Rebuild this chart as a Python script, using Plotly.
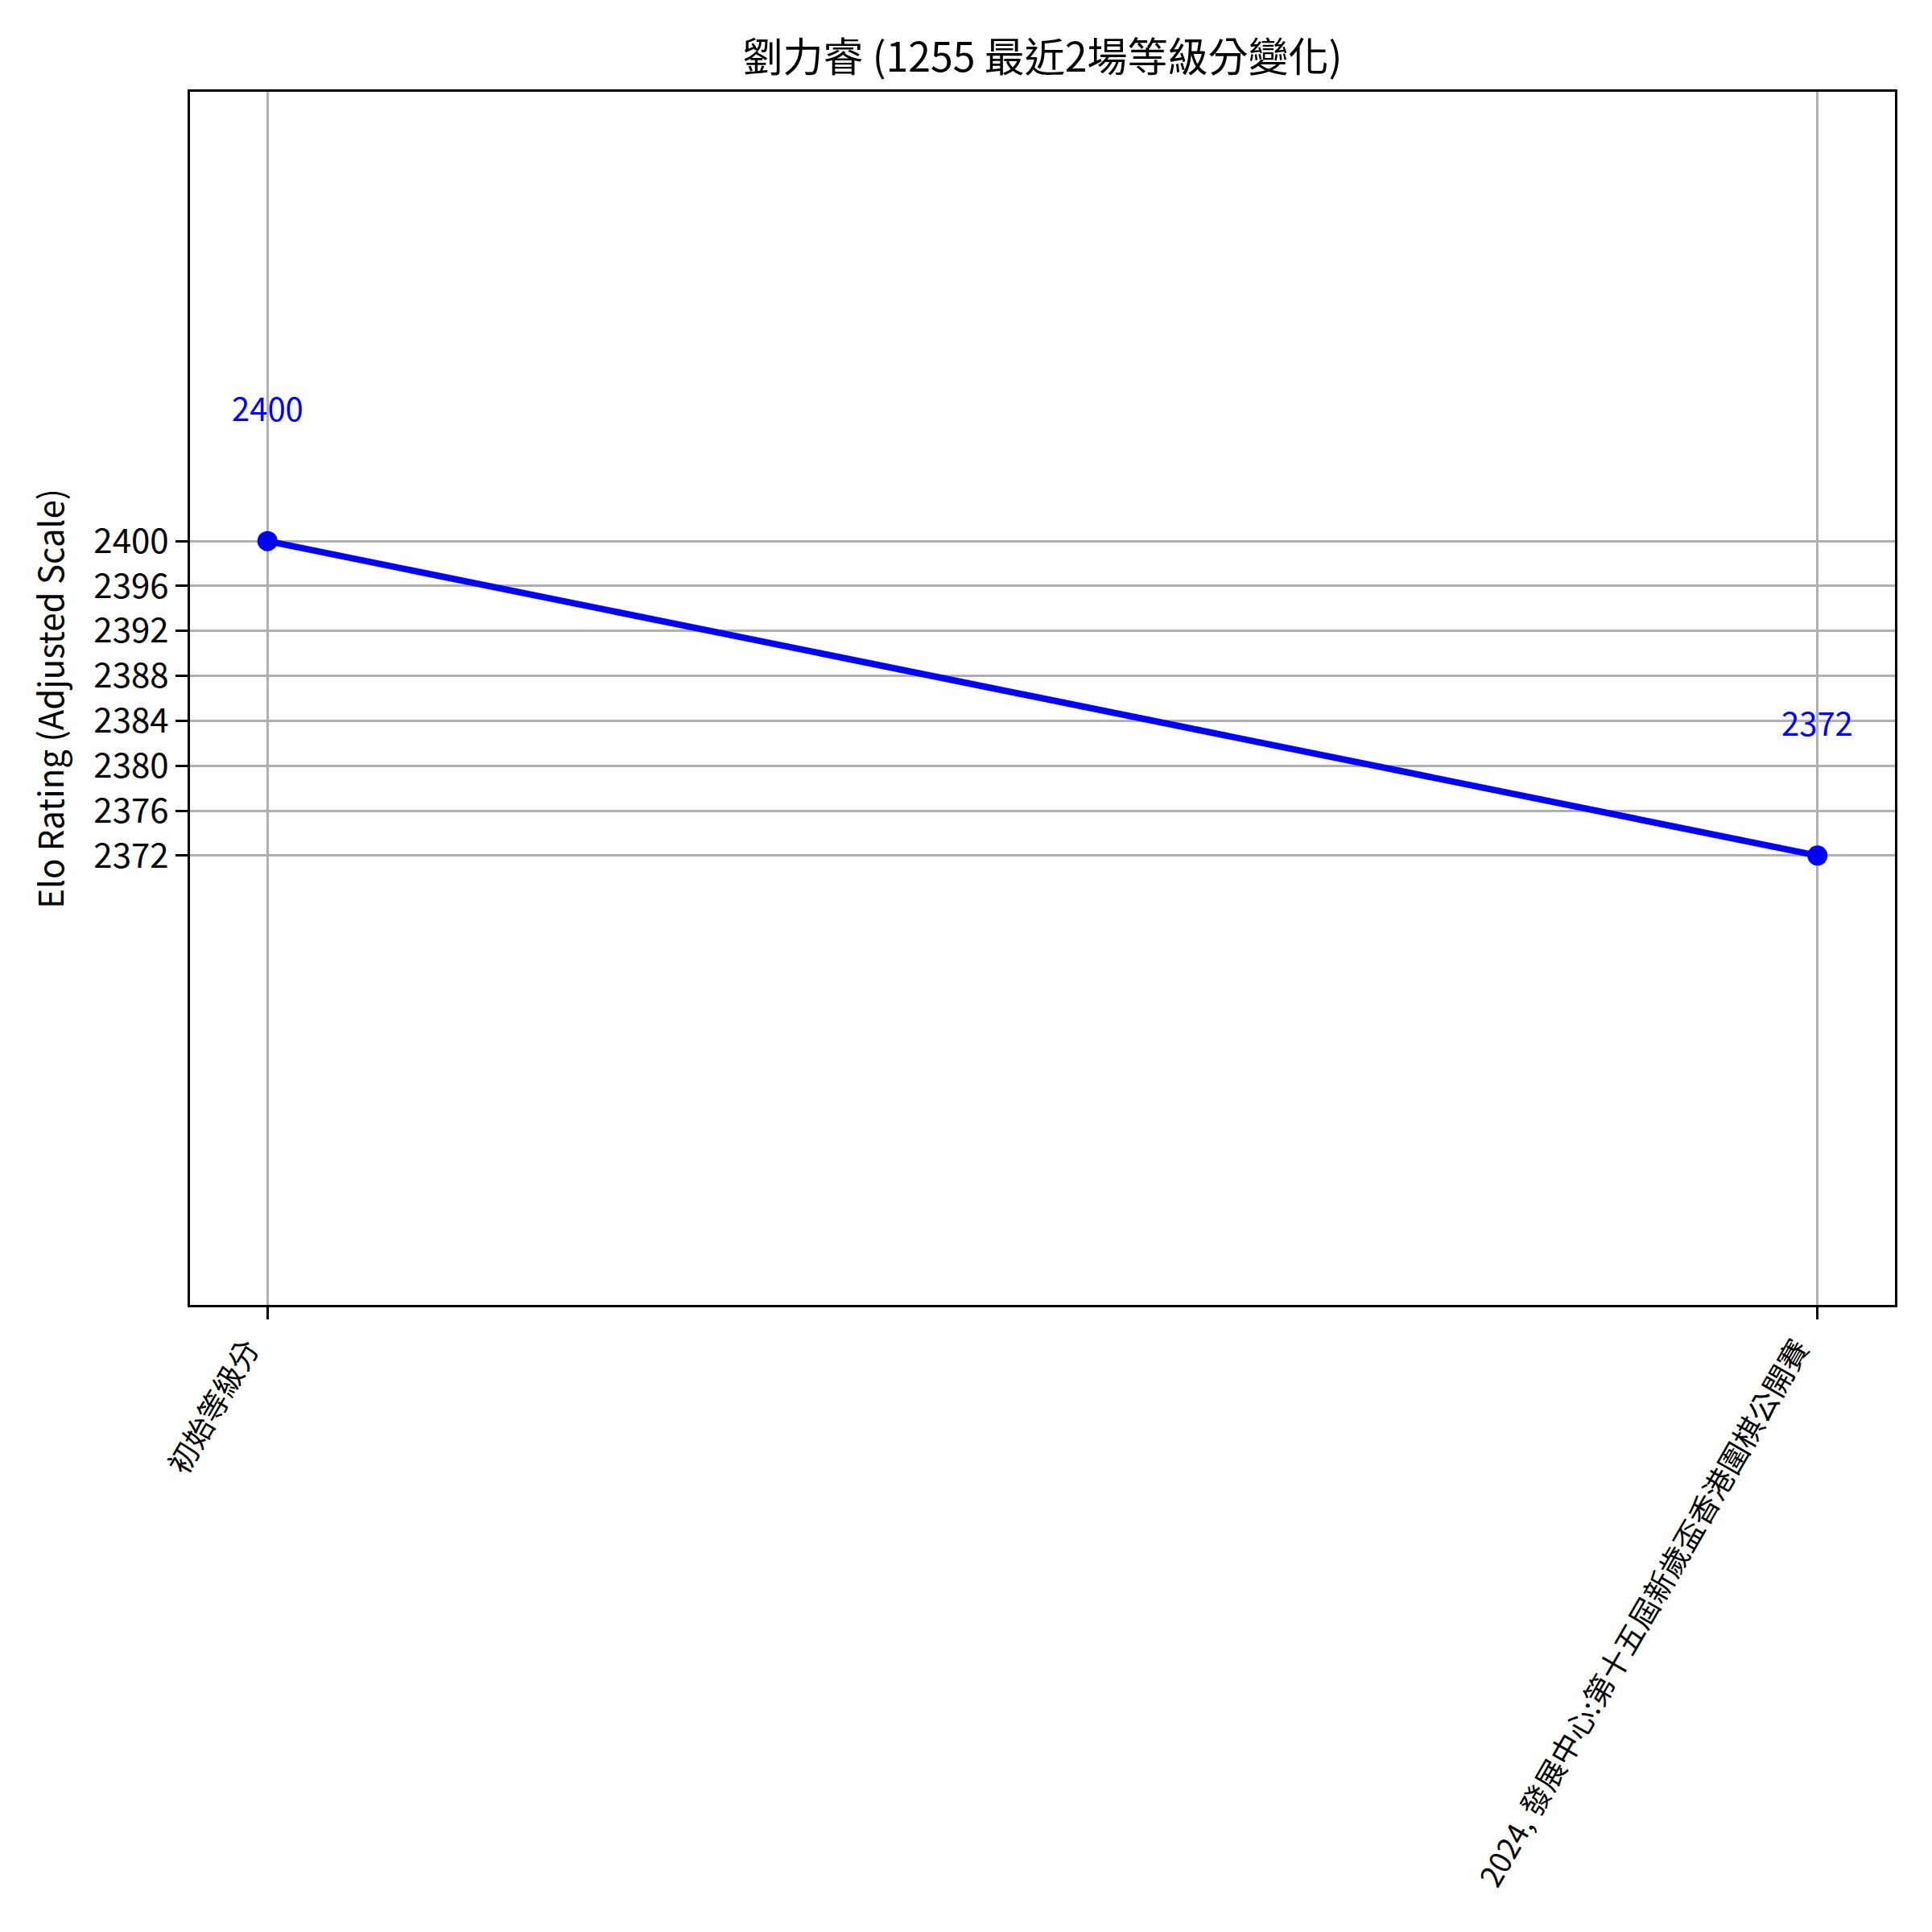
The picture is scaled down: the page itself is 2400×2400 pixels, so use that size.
import plotly.graph_objects as go

categories = ["初始等級分", "2024, 發展中心:第十五屆新歲盃香港圍棋公開賽"]
ratings = [2400, 2372]
y_ticks = [2372, 2376, 2380, 2384, 2388, 2392, 2396, 2400]
title_text = "劉力睿 (1255 最近2場等級分變化)"
y_label = "Elo Rating (Adjusted Scale)"

FONT = "Noto Sans CJK TC"
x_pos = list(range(len(categories)))

fig = go.Figure()
fig.add_trace(go.Scatter(
    x=x_pos, y=ratings, mode="lines+markers",
    line=dict(color="blue", width=8),
    marker=dict(color="blue", size=25),
    showlegend=False, hoverinfo="skip",
))

for xi, v in zip(x_pos, ratings):
    fig.add_annotation(x=xi, y=v, xref="x", yref="y", text=str(v),
                       showarrow=False, yshift=166,
                       font=dict(family=FONT, size=40, color="blue"))

fig.add_annotation(xref="paper", yref="paper", x=-0.083, y=0.5,
                   xanchor="center", yanchor="middle", text=y_label,
                   textangle=-90, showarrow=False, borderpad=0,
                   font=dict(family=FONT, size=42, color="black"))

axis_common = dict(
    showline=True, linecolor="black", linewidth=3, mirror=True,
    ticks="outside", ticklen=15, tickwidth=3, tickcolor="black",
    showgrid=True, gridcolor="#b0b0b0", gridwidth=3, zeroline=False,
)

fig.update_layout(
    width=2400, height=2400,
    margin=dict(l=228, r=54, t=106, b=787),
    paper_bgcolor="white", plot_bgcolor="white",
    font=dict(family=FONT, color="black"),
    title=dict(text=title_text, x=1287/2400, xanchor="center",
               y=1 - 63/2400, yanchor="middle", yref="container",
               font=dict(family=FONT, size=50, color="black")),
    xaxis=dict(range=[-0.05, 1.05], tickmode="array", tickvals=x_pos,
               ticktext=categories, tickangle=-60, ticklabelshift=-25,
               tickfont=dict(family=FONT, size=37, color="black"),
               **axis_common),
    yaxis=dict(range=[2332, 2440], tickmode="array", tickvals=y_ticks,
               ticktext=[str(t) for t in y_ticks],
               tickfont=dict(family=FONT, size=42, color="black"),
               **axis_common),
)

fig.write_html("out.html")
